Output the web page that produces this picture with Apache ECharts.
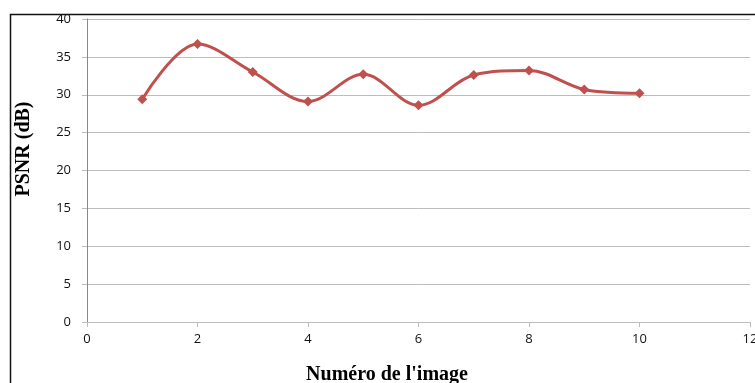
<!DOCTYPE html>
<html>
<head>
<meta charset="utf-8">
<script src="https://cdn.jsdelivr.net/npm/echarts@6/dist/echarts.min.js"></script>
<style>
html,body{margin:0;padding:0;background:#fff;overflow:hidden;}
#c{width:755px;height:383px;}
</style>
</head>
<body>
<div id="c"></div>
<script>
const imageNumbers = [1, 2, 3, 4, 5, 6, 7, 8, 9, 10];
const psnrValues = [29.4, 36.7, 33.0, 29.1, 32.7, 28.6, 32.6, 33.2, 30.7, 30.2];
const xAxisTitle = "Numéro de l'image";
const yAxisTitle = "PSNR (dB)";

const chart = echarts.init(document.getElementById('c'), null, {renderer: 'canvas'});
const tickFont = {fontFamily: 'Open Sans, Noto Sans, sans-serif', fontSize: 13, color: '#111'};

chart.setOption({
  animation: false,
  backgroundColor: '#fff',
  grid: {left: 87, right: 5, top: 19, bottom: 61, containLabel: false, outerBoundsMode: 'none'},
  xAxis: {
    type: 'value', min: 0, max: 12, interval: 2,
    axisLine: {show: true, lineStyle: {color: '#BDBDBD', width: 1}},
    axisTick: {show: true, length: 5, lineStyle: {color: '#BDBDBD'}},
    axisLabel: Object.assign({margin: 11}, tickFont),
    splitLine: {show: false}
  },
  yAxis: {
    type: 'value', min: 0, max: 40, interval: 5,
    axisLine: {show: true, lineStyle: {color: '#8A8A8A', width: 1}},
    axisTick: {show: true, length: 5, lineStyle: {color: '#BDBDBD'}},
    axisLabel: Object.assign({margin: 16}, tickFont),
    splitLine: {show: true, lineStyle: {color: '#BDBDBD', width: 1}}
  },
  graphic: [
    {type: 'rect', shape: {x: 10.5, y: 14.5, width: 900, height: 500}, style: {fill: 'none', stroke: '#111', lineWidth: 1.5}, z: 100, silent: true},
    {type: 'text', x: 387, y: 375, style: {text: xAxisTitle, font: 'bold 20px "Liberation Serif", serif', fill: '#000', textAlign: 'center', textVerticalAlign: 'middle'}},
    {type: 'text', x: 24, y: 149, rotation: Math.PI / 2, style: {text: yAxisTitle, font: 'bold 20px "Liberation Serif", serif', fill: '#000', textAlign: 'center', textVerticalAlign: 'middle'}}
  ],
  series: [{
    type: 'line',
    data: imageNumbers.map((x, i) => [x, psnrValues[i]]),
    smooth: 0.35,
    symbol: 'diamond',
    symbolSize: 10,
    lineStyle: {color: '#C0504D', width: 3},
    itemStyle: {color: '#C0504D'}
  }]
});
</script>
</body>
</html>
